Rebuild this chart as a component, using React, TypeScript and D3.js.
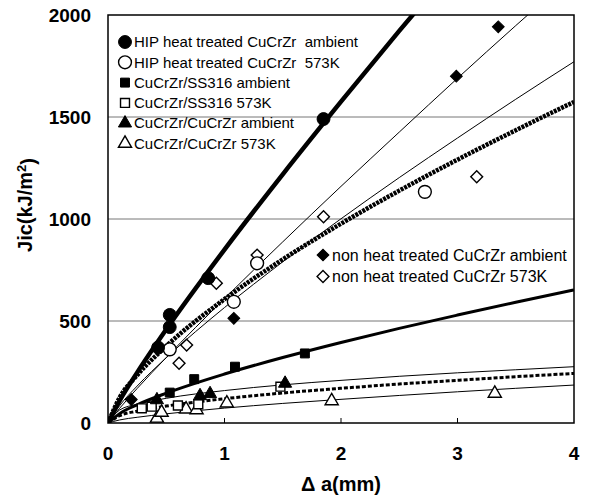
import React from 'react';
import * as d3 from 'd3';

const curveA = [0, 0.1, 0.25, 0.5, 1, 1.5, 2, 2.5, 3, 3.5, 4];

// fitted curves, J values at curveA
const fitHipAmbient = [0, 109, 247, 459, 850, 1219, 1575, 1922, 2260, 2590, 2920];
const fitNonAmbient = [0, 72, 169, 321, 610, 888, 1160, 1426, 1690, 1948, 2200];
const fitNon573 = [0, 85, 181, 320, 566, 790, 1001, 1203, 1397, 1587, 1771];
const fitHip573 = [0, 125, 234, 377, 607, 802, 977, 1139, 1291, 1435, 1574];
const fitSsAmbient = [0, 46, 89, 146, 240, 321, 395, 464, 529, 592, 652];
const fitCuAmbient = [0, 64, 92, 121, 159, 187, 209, 229, 246, 261, 276];
const fitSs573 = [0, 36, 58, 83, 119, 147, 170, 191, 209, 227, 243];
const fitCu573 = [0, 15, 28, 45, 73, 96, 116, 135, 153, 170, 186];

// measured points [Δa, Jic]
const hipAmbient = [[0.43, 370], [0.53, 530], [0.53, 470], [0.86, 710], [1.85, 1490]];
const hip573 = [[0.53, 361], [1.08, 594], [1.28, 783], [2.72, 1133]];
const ssAmbient = [[0.53, 149], [0.74, 215], [1.09, 276], [1.69, 341]];
const ss573 = [[0.29, 72], [0.375, 80], [0.6, 86], [0.775, 92], [1.48, 178]];
const cuAmbient = [[0.42, 113], [0.79, 133], [0.876, 143], [1.52, 194]];
const cu573 = [[0.42, 23], [0.46, 52], [0.67, 68], [0.76, 64], [1.02, 97], [1.92, 108], [3.32, 145]];
const nonAmbient = [[0.2, 115], [1.08, 513], [2.99, 1700], [3.35, 1942]];
const non573 = [[0.61, 293], [0.675, 382], [0.93, 685], [1.28, 823], [1.85, 1011], [3.165, 1207]];

const xTicks = [0, 1, 2, 3, 4];
const yTicks = [0, 500, 1000, 1500, 2000];

const legendLeft = [
  { label: 'HIP heat treated CuCrZr  ambient', shape: 'circle', fill: true },
  { label: 'HIP heat treated CuCrZr  573K', shape: 'circle', fill: false },
  { label: 'CuCrZr/SS316 ambient', shape: 'square', fill: true },
  { label: 'CuCrZr/SS316 573K', shape: 'square', fill: false },
  { label: 'CuCrZr/CuCrZr ambient', shape: 'triangle', fill: true },
  { label: 'CuCrZr/CuCrZr 573K', shape: 'triangle', fill: false },
];
const legendRight = [
  { label: 'non heat treated CuCrZr ambient', shape: 'diamond', fill: true },
  { label: 'non heat treated CuCrZr 573K', shape: 'diamond', fill: false },
];

const W = 593;
const H = 495;
const FONT = '"Liberation Sans", Arial, sans-serif';

const x = d3.scaleLinear().domain([0, 4]).range([108, 574]);
const y = d3.scaleLinear().domain([0, 2000]).range([423, 15]);

const symbolTypes: Record<string, any> = {
  circle: d3.symbolCircle,
  square: d3.symbolSquare,
  triangle: d3.symbolTriangle,
  diamond: d3.symbolSquare, // rotated 45° below
};
const symbolSizes: Record<string, number> = { circle: 130, square: 80, triangle: 75, diamond: 70 };

const markerPath = (shape: string) =>
  d3.symbol().type(symbolTypes[shape]).size(symbolSizes[shape])() as string;

const line = d3
  .line<number>()
  .x((_, i) => x(curveA[i]))
  .y((d) => y(d))
  .curve(d3.curveMonotoneX);

function Marker({ shape, fill, cx, cy }: any) {
  const rot = shape === 'diamond' ? ' rotate(45)' : '';
  return (
    <path
      d={markerPath(shape)}
      transform={`translate(${cx},${cy})${rot}`}
      fill={fill ? '#000' : '#fff'}
      stroke="#000"
      strokeWidth={fill ? 1 : 1.4}
    />
  );
}

function Points({ data, shape, fill }: any) {
  return (
    <g>
      {data.map((d: number[], i: number) => (
        <Marker key={i} shape={shape} fill={fill} cx={x(d[0])} cy={y(d[1])} />
      ))}
    </g>
  );
}

export default function App() {
  const [x0, x1] = x.range();
  const [y0, y1] = y.range();
  return (
    <div style={{ position: 'absolute', left: 0, top: 0 }}>
      <svg width={W} height={H} style={{ display: 'block', background: '#fff' }} fontFamily={FONT}>
        <defs>
          <clipPath id="plot">
            <rect x={x0} y={y1} width={x1 - x0} height={y0 - y1} />
          </clipPath>
        </defs>

        {/* grid */}
        {yTicks.slice(1, -1).map((t) => (
          <line key={t} x1={x0} x2={x1} y1={y(t)} y2={y(t)} stroke="#777" strokeWidth={1} />
        ))}

        {/* ticks on x axis */}
        {xTicks.slice(1, -1).map((t) => (
          <line key={t} x1={x(t)} x2={x(t)} y1={y0} y2={y0 - 5} stroke="#000" strokeWidth={1} />
        ))}

        {/* fitted curves */}
        <g clipPath="url(#plot)" fill="none" stroke="#000">
          <path d={line(fitCu573) as string} strokeWidth={1} />
          <path d={line(fitSs573) as string} strokeWidth={3} strokeDasharray="4,2" />
          <path d={line(fitCuAmbient) as string} strokeWidth={1} />
          <path d={line(fitSsAmbient) as string} strokeWidth={3} />
          <path d={line(fitHip573) as string} strokeWidth={4.5} strokeDasharray="3,1" />
          <path d={line(fitNon573) as string} strokeWidth={1} />
          <path d={line(fitNonAmbient) as string} strokeWidth={1} />
          <path d={line(fitHipAmbient) as string} strokeWidth={4.5} />
        </g>

        {/* data points */}
        <Points data={cu573} shape="triangle" fill={false} />
        <Points data={ss573} shape="square" fill={false} />
        <Points data={cuAmbient} shape="triangle" fill={true} />
        <Points data={ssAmbient} shape="square" fill={true} />
        <Points data={non573} shape="diamond" fill={false} />
        <Points data={hip573} shape="circle" fill={false} />
        <Points data={nonAmbient} shape="diamond" fill={true} />
        <Points data={hipAmbient} shape="circle" fill={true} />

        {/* frame */}
        <rect x={x0} y={y1} width={x1 - x0} height={y0 - y1} fill="none" stroke="#000" strokeWidth={1.5} />

        {/* axis labels */}
        {yTicks.map((t) => (
          <text key={t} x={91} y={y(t)} dy="0.35em" textAnchor="end" fontSize={19} fontWeight="bold">
            {t}
          </text>
        ))}
        {xTicks.map((t) => (
          <text key={t} x={x(t)} y={453} dy="0.35em" textAnchor="middle" fontSize={19} fontWeight="bold">
            {t}
          </text>
        ))}
        <text x={x(2)} y={484} dy="0.35em" textAnchor="middle" fontSize={20} fontWeight="bold">
          Δ a(mm)
        </text>
        <text
          transform="translate(25,205) rotate(-90)"
          textAnchor="middle"
          dy="0.35em"
          fontSize={20}
          fontWeight="bold"
        >
          Jic(kJ/m<tspan dy="-0.45em" fontSize={13}>2</tspan>
          <tspan dy="0.45em">)</tspan>
        </text>

        {/* legends */}
        {legendLeft.map((d, i) => (
          <g key={d.label} transform={`translate(0,${42 + i * 20.3})`}>
            <Marker shape={d.shape} fill={d.fill} cx={125} cy={0} />
            <text x={134} y={0} dy="0.35em" fontSize={15} style={{ whiteSpace: 'pre' }}>
              {d.label}
            </text>
          </g>
        ))}
        {legendRight.map((d, i) => (
          <g key={d.label} transform={`translate(0,${255 + i * 21.5})`}>
            <Marker shape={d.shape} fill={d.fill} cx={323} cy={0} />
            <text x={332} y={0} dy="0.35em" fontSize={16}>
              {d.label}
            </text>
          </g>
        ))}
      </svg>
    </div>
  );
}
